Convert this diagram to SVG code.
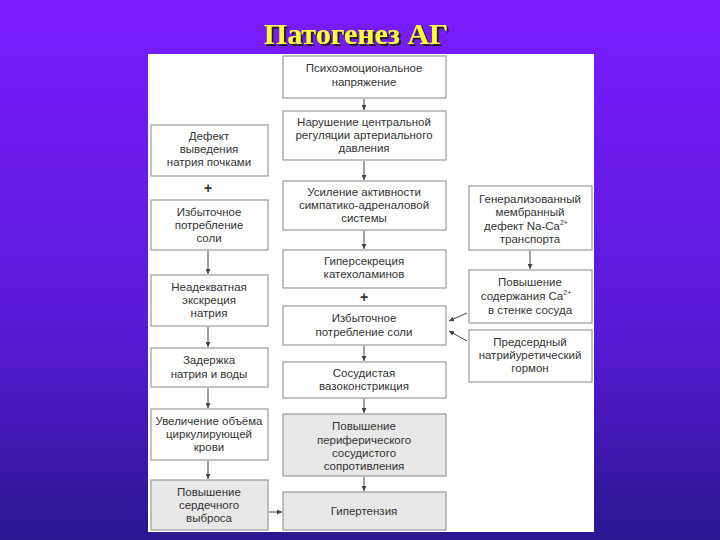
<svg xmlns="http://www.w3.org/2000/svg" width="720" height="540" viewBox="0 0 720 540">
<defs>
<linearGradient id="bg" x1="0" y1="0" x2="0" y2="1">
<stop offset="0" stop-color="#7a1cff"/><stop offset="0.6" stop-color="#5a1ad8"/><stop offset="1" stop-color="#2a1690"/>
</linearGradient>
<filter id="sh" x="-10%" y="-20%" width="120%" height="150%"><feDropShadow dx="2" dy="2" stdDeviation="0.5" flood-color="#222"/></filter>
<marker id="ah" viewBox="0 0 6 6" refX="6" refY="3" markerWidth="5" markerHeight="5" orient="auto"><path d="M0,0L6,3L0,6z" fill="#444"/></marker>
</defs>
<style>
.b{fill:#fff;stroke:#999;stroke-width:1.2}
.g{fill:#e8e8e8;stroke:#999;stroke-width:1.2}
text{font-family:"Liberation Sans",Arial,sans-serif;font-size:11.5px;fill:#333;text-anchor:middle}
.p{font-size:14px;font-weight:bold}
.c line{stroke:#444;stroke-width:1;marker-end:url(#ah)}
.t{font-family:"Liberation Serif","Times New Roman",serif;font-size:30px;font-weight:bold;fill:#ffff33}
</style>
<rect width="720" height="540" fill="url(#bg)"/>
<text class="t" x="356" y="44" filter="url(#sh)">Патогенез АГ</text>
<rect x="148" y="54" width="446" height="478" fill="#fff"/>

<g id="c1"><rect class="b" x="283" y="56" width="163" height="42"/><text x="364" y="72">Психоэмоциональное</text><text x="364" y="86">напряжение</text></g>
<g id="c2"><rect class="b" x="283" y="111" width="163" height="49"/><text x="364" y="126">Нарушение центральной</text><text x="364" y="139">регуляции артериального</text><text x="364" y="152">давления</text></g>
<g id="c3"><rect class="b" x="283" y="181" width="163" height="49"/><text x="364" y="196">Усиление активности</text><text x="364" y="209">симпатико-адреналовой</text><text x="364" y="222">системы</text></g>
<g id="c4"><rect class="b" x="283" y="250" width="163" height="38"/><text x="364" y="265">Гиперсекреция</text><text x="364" y="278">катехоламинов</text></g>
<text class="p" x="364" y="302">+</text>
<g id="c5"><rect class="b" x="283" y="306" width="163" height="39"/><text x="364" y="322">Избыточное</text><text x="364" y="336">потребление соли</text></g>
<g id="c6"><rect class="b" x="283" y="362" width="163" height="36"/><text x="364" y="377">Сосудистая</text><text x="364" y="390">вазоконстрикция</text></g>
<g id="c7"><rect class="g" x="283" y="414" width="163" height="62"/><text x="364" y="430">Повышение</text><text x="364" y="444">периферического</text><text x="364" y="457">сосудистого</text><text x="364" y="470">сопротивления</text></g>
<g id="c8"><rect class="g" x="283" y="492" width="163" height="38"/><text x="364" y="515">Гипертензия</text></g>

<g id="l1"><rect class="b" x="151" y="125" width="117" height="51"/><text x="209" y="140">Дефект</text><text x="209" y="153">выведения</text><text x="209" y="166">натрия почками</text></g>
<text class="p" x="208" y="193">+</text>
<g id="l2"><rect class="b" x="151" y="200" width="117" height="50"/><text x="209" y="216">Избыточное</text><text x="209" y="229">потребление</text><text x="209" y="242">соли</text></g>
<g id="l3"><rect class="b" x="151" y="275" width="117" height="51"/><text x="209" y="291">Неадекватная</text><text x="209" y="304">экскреция</text><text x="209" y="317">натрия</text></g>
<g id="l4"><rect class="b" x="151" y="348" width="117" height="39"/><text x="209" y="364">Задержка</text><text x="209" y="378">натрия и воды</text></g>
<g id="l5"><rect class="b" x="151" y="409" width="117" height="51"/><text x="209" y="425">Увеличение объёма</text><text x="209" y="438">циркулирующей</text><text x="209" y="451">крови</text></g>
<g id="l6"><rect class="g" x="151" y="480" width="117" height="50"/><text x="209" y="496">Повышение</text><text x="209" y="509">сердечного</text><text x="209" y="522">выброса</text></g>

<g id="r1"><rect class="b" x="469" y="186" width="123" height="64"/><text x="530" y="203">Генерализованный</text><text x="530" y="216">мембранный</text><text x="526" y="230">дефект Na-Ca<tspan dy="-5" font-size="7">2+</tspan></text><text x="530" y="243">транспорта</text></g>
<g id="r2"><rect class="b" x="469" y="270" width="123" height="53"/><text x="530" y="286">Повышение</text><text x="526" y="300">содержания Ca<tspan dy="-5" font-size="7">2+</tspan></text><text x="530" y="314">в стенке сосуда</text></g>
<g id="r3"><rect class="b" x="469" y="330" width="123" height="52"/><text x="530" y="346">Предсердный</text><text x="530" y="359">натрийуретический</text><text x="530" y="372">гормон</text></g>

<g class="c" id="connectors">
<line x1="364" y1="99" x2="364" y2="110"/>
<line x1="364" y1="161" x2="364" y2="180"/>
<line x1="364" y1="231" x2="364" y2="249"/>
<line x1="364" y1="346" x2="364" y2="361"/>
<line x1="364" y1="399" x2="364" y2="413"/>
<line x1="364" y1="477" x2="364" y2="491"/>
<line x1="208" y1="251" x2="208" y2="274"/>
<line x1="208" y1="327" x2="208" y2="347"/>
<line x1="208" y1="388" x2="208" y2="408"/>
<line x1="208" y1="461" x2="208" y2="479"/>
<line x1="269" y1="512" x2="282" y2="512"/>
<line x1="530" y1="251" x2="530" y2="269"/>
<line x1="467" y1="313" x2="449" y2="321"/>
<line x1="467" y1="341" x2="449" y2="331"/>
</g>
</svg>
